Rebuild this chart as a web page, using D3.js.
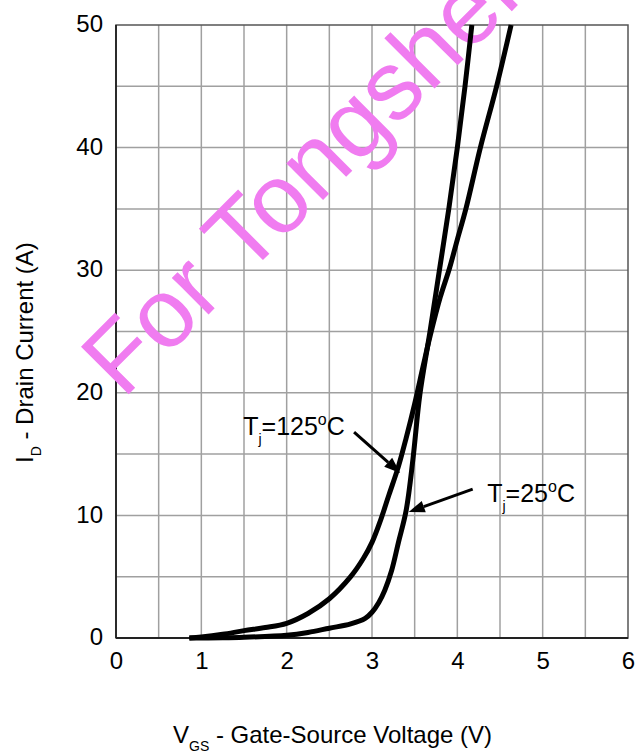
<!DOCTYPE html>
<html><head><meta charset="utf-8">
<script src="https://cdn.jsdelivr.net/npm/d3@7"></script>
<style>body{margin:0;background:#fff}svg{display:block}text{font-family:"Liberation Sans",Arial,sans-serif}</style>
</head><body>
<svg id="c" width="637" height="754"></svg>
<script>
// ---- data ----
const xTicks = [0,1,2,3,4,5,6];
const yTicks = [0,10,20,30,40,50];
const vgs125 = [0.86,1.0,1.25,1.5,1.75,2.0,2.25,2.5,2.75,2.9,3.0,3.1,3.2,3.31,3.4,3.5,3.6,3.68,3.8,3.91,4.0,4.1,4.27,4.46,4.63];
const id125  = [0,0.08,0.3,0.6,0.85,1.2,2.0,3.2,5.0,6.5,7.8,9.6,11.7,14.0,16.3,19.1,22.2,24.6,27.8,30.2,32.5,35,40,45,50];
const vgs25 = [0.86,1.25,1.5,2.0,2.25,2.5,2.75,2.92,3.0,3.08,3.15,3.23,3.31,3.4,3.48,3.56,3.68,3.79,3.9,4.0,4.09,4.17];
const id25  = [0,0.02,0.06,0.22,0.45,0.8,1.15,1.6,2.1,2.9,3.9,5.5,7.8,10.4,14.6,19.8,25,30,35,40,45,50];
const labels = ["125", "25"];
const labelPos = [[1.49,16.56],[4.35,11.1]];
const arrows = [[[2.79,16.8],[3.33,13.46]],[[4.18,12.15],[3.43,10.28]]];

const svg = d3.select("#c");
const x = d3.scaleLinear().domain([0,6]).range([116,628]);
const y = d3.scaleLinear().domain([0,50]).range([638,25]);

// grid
const g = svg.append("g");
g.selectAll("line.v").data(d3.range(0.5,6,0.5)).join("line")
  .attr("x1",d=>x(d)).attr("x2",d=>x(d)).attr("y1",y(0)).attr("y2",y(50))
  .attr("stroke","#a0a0a0").attr("stroke-width",1.5);
g.selectAll("line.h").data(d3.range(5,50,5)).join("line")
  .attr("y1",d=>y(d)).attr("y2",d=>y(d)).attr("x1",x(0)).attr("x2",x(6))
  .attr("stroke","#a0a0a0").attr("stroke-width",1.5);
svg.append("rect").attr("x",x(0)).attr("y",y(50)).attr("width",x(6)-x(0)).attr("height",y(0)-y(50))
  .attr("fill","none").attr("stroke","#555").attr("stroke-width",1.5);
svg.append("line").attr("x1",x(0)).attr("x2",x(6)).attr("y1",y(0)).attr("y2",y(0)).attr("stroke","#222").attr("stroke-width",1.8);
svg.append("line").attr("x1",x(0)).attr("x2",x(0)).attr("y1",y(0)).attr("y2",y(50)).attr("stroke","#222").attr("stroke-width",1.8);

// axes (labels only)
const xa = svg.append("g").attr("transform",`translate(0,${y(0)})`)
  .call(d3.axisBottom(x).tickValues(xTicks).tickSize(0).tickPadding(14).tickFormat(d3.format("d")));
const ya = svg.append("g").attr("transform",`translate(${x(0)},0)`)
  .call(d3.axisLeft(y).tickValues(yTicks).tickSize(0).tickPadding(13).tickFormat(d3.format("d")));
[xa,ya].forEach(a=>{a.select(".domain").remove();a.selectAll("text").attr("font-size",24).attr("fill","#000").attr("font-family","Liberation Sans, Arial, sans-serif");});
ya.selectAll("text").attr("dy","0.28em");

// watermark
svg.append("text").attr("transform","translate(123,400) rotate(-45)")
  .attr("font-size",98).attr("fill","#f07cf0").text("For Tongshen");

// curves
const line = d3.line().x(d=>x(d[0])).y(d=>y(d[1])).curve(d3.curveCatmullRom.alpha(0.5));
[[vgs125,id125],[vgs25,id25]].forEach(([vs,is])=>{
  svg.append("path").datum(vs.map((v,i)=>[v,is[i]])).attr("d",line)
    .attr("fill","none").attr("stroke","#000").attr("stroke-width",5).attr("stroke-linejoin","round");
});

// annotations
labels.forEach((t,i)=>{
  const tx = svg.append("text").attr("x",x(labelPos[i][0])).attr("y",y(labelPos[i][1])).attr("font-size",25).attr("fill","#000");
  tx.append("tspan").text("T");
  tx.append("tspan").attr("font-size",14).attr("dy",9).text("j");
  tx.append("tspan").attr("dy",-9).text("=" + t);
  tx.append("tspan").attr("font-size",16).attr("dy",-10).text("o");
  tx.append("tspan").attr("dy",10).text("C");
});
arrows.forEach(a=>{
  const [x1,y1]=[x(a[0][0]),y(a[0][1])],[x2,y2]=[x(a[1][0]),y(a[1][1])];
  const ang=Math.atan2(y2-y1,x2-x1), L=16, W=6;
  const bx=x2-L*Math.cos(ang), by=y2-L*Math.sin(ang);
  svg.append("line").attr("x1",x1).attr("y1",y1).attr("x2",bx).attr("y2",by).attr("stroke","#000").attr("stroke-width",3);
  svg.append("polygon").attr("points",[[x2,y2],[bx+W*Math.sin(ang),by-W*Math.cos(ang)],[bx-W*Math.sin(ang),by+W*Math.cos(ang)]].map(p=>p.join(",")).join(" ")).attr("fill","#000");
});

// axis titles
const xt = svg.append("text").attr("x",173).attr("y",743).attr("font-size",24).attr("fill","#000");
xt.append("tspan").text("V");
xt.append("tspan").attr("font-size",14).attr("dy",8).text("GS");
xt.append("tspan").attr("dy",-8).text(" - Gate-Source Voltage (V)");
const yt = svg.append("text").attr("transform","translate(33,463) rotate(-90)").attr("font-size",24).attr("fill","#000");
yt.append("tspan").text("I");
yt.append("tspan").attr("font-size",14).attr("dy",8).text("D");
yt.append("tspan").attr("dy",-8).text(" - Drain Current (A)");
</script>
</body></html>
